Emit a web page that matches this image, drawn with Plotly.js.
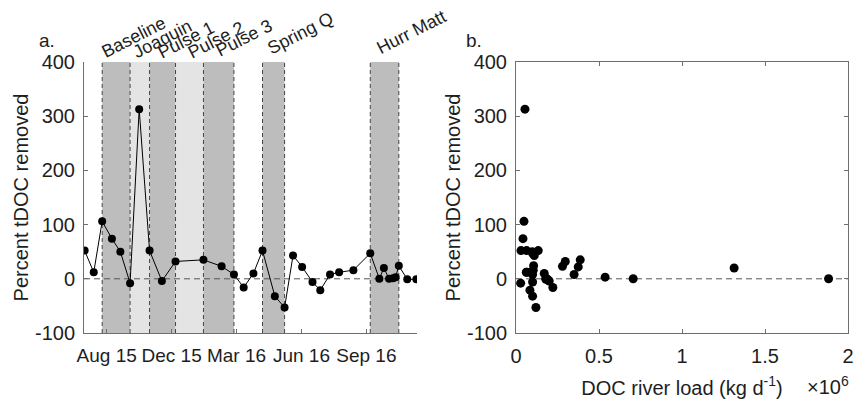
<!DOCTYPE html>
<html>
<head>
<meta charset="utf-8">
<script src="https://cdn.plot.ly/plotly-3.0.1.min.js"></script>
<style>html,body{margin:0;padding:0;background:#fff;}#chart{width:855px;height:399px;}</style>
</head>
<body>
<div id="chart"></div>
<script>
// ---- data ----
const sampleDates = ['2015-07-21','2015-08-04','2015-08-17','2015-09-01','2015-09-14','2015-09-29','2015-10-13','2015-10-29','2015-11-17','2015-12-08',
  '2016-01-20','2016-02-17','2016-03-07','2016-03-22','2016-04-06','2016-04-20','2016-05-09','2016-05-24','2016-06-06','2016-06-20',
  '2016-07-06','2016-07-18','2016-08-02','2016-08-16','2016-09-07','2016-10-03','2016-10-17','2016-10-24','2016-11-01','2016-11-07',
  '2016-11-11','2016-11-16','2016-11-29','2016-12-13'];
const percentRemoved = [52, 12, 106, 74, 50, -8, 313, 52, -4, 32, 35, 23, 8, -16, 10, 52, -32, -53, 43, 22,
  -6, -21, 8, 12, 16, 47, 0, 20, 0, 1, 3, 24, -1, -1];
const docLoadE6 = [0.030, 0.062, 0.048, 0.042, 0.098, 0.028, 0.054, 0.134, 0.200, 0.297, 0.387, 0.280, 0.350, 0.222, 0.170, 0.064, 0.100, 0.120, 0.110, 0.375,
  0.100, 0.084, 0.100, 0.066, 0.104, 0.100, 1.883, 1.314, 0.706, 0.180, 0.537, 0.106, 0.180, 0.190];

const periodNames = ['Baseline','Joaquin','Pulse 1','Pulse 2','Pulse 3','Spring Q','Hurr Matt'];
const periodStart = ['2015-08-17','2015-09-29','2015-10-29','2015-12-08','2016-01-20','2016-04-20','2016-10-03'];
const periodEnd   = ['2015-09-29','2015-10-29','2015-12-08','2016-01-20','2016-03-07','2016-05-24','2016-11-16'];
const periodShade = ['dark','light','dark','light','dark','dark','dark'];

const dateTickVals = ['2015-08-24','2015-12-02','2016-03-11','2016-06-19','2016-09-27'];
const dateTickText = ['Aug 15','Dec 15','Mar 16','Jun 16','Sep 16'];
const yTicks = [-100, 0, 100, 200, 300, 400];
const yTickText = ['-100','0','100','200','300','400'];
const loadTicks = [0, 0.5, 1, 1.5, 2];
const loadTickText = ['0','0.5','1','1.5','2'];

// ---- layout helpers ----
const W = 855, H = 399;
const px = v => v / W;
const py = v => 1 - v / H;
const FONT = 'Liberation Sans, Arial, Helvetica, sans-serif';
const TXT = '#1e1e1e';
const AX = '#6e6e6e';

const traces = [
  {x: sampleDates, y: percentRemoved, xaxis: 'x', yaxis: 'y', type: 'scatter', mode: 'lines+markers',
   line: {color: '#000', width: 1}, marker: {color: '#000', size: 8}, hoverinfo: 'x+y'},
  {x: docLoadE6, y: percentRemoved, xaxis: 'x2', yaxis: 'y2', type: 'scatter', mode: 'markers',
   marker: {color: '#000', size: 9}}
];

const shapes = [];
const bandColor = {dark: '#bdbdbd', light: '#e4e4e4'};
periodNames.forEach((n, i) => {
  shapes.push({type: 'rect', xref: 'x', yref: 'y domain', x0: periodStart[i], x1: periodEnd[i], y0: 0, y1: 1,
    fillcolor: bandColor[periodShade[i]], line: {width: 0}, layer: 'below'});
});
const edges = Array.from(new Set(periodStart.concat(periodEnd)));
edges.forEach(d => {
  shapes.push({type: 'line', xref: 'x', yref: 'y domain', x0: d, x1: d, y0: 0, y1: 1,
    line: {color: '#444', width: 1, dash: '4px,3px'}, layer: 'below'});
});
shapes.push({type: 'line', xref: 'x domain', yref: 'y', x0: 0, x1: 1, y0: 0, y1: 0,
  line: {color: '#555', width: 1, dash: '6px,4px'}, layer: 'below'});
shapes.push({type: 'line', xref: 'x2 domain', yref: 'y2', x0: 0, x1: 1, y0: 0, y1: 0,
  line: {color: '#555', width: 1, dash: '6px,4px'}, layer: 'below'});

const labelPx = [[96, 64], [127, 65], [152, 65], [182, 65], [210, 63], [262, 61], [371, 61]];
const annotations = periodNames.map((n, i) => ({
  text: n, xref: 'paper', yref: 'paper', x: px(labelPx[i][0]), y: py(labelPx[i][1]),
  xanchor: 'left', yanchor: 'bottom', textangle: -27, showarrow: false,
  font: {family: FONT, size: 18, color: TXT}
}));
annotations.push({text: 'a.', xref: 'paper', yref: 'paper', x: px(37), y: py(40), xanchor: 'left', yanchor: 'middle',
  showarrow: false, font: {family: FONT, size: 19, color: TXT}});
annotations.push({text: 'b.', xref: 'paper', yref: 'paper', x: px(464), y: py(40), xanchor: 'left', yanchor: 'middle',
  showarrow: false, font: {family: FONT, size: 19, color: TXT}});
annotations.push({text: '×10<sup>6</sup>', xref: 'paper', yref: 'paper', x: px(805), y: py(385), xanchor: 'left', yanchor: 'middle',
  showarrow: false, font: {family: FONT, size: 20, color: TXT}});

const yCommon = {range: [-100, 400], tickvals: yTicks, ticktext: yTickText, ticks: 'inside', ticklen: 4, tickcolor: AX,
  showline: true, linecolor: AX, linewidth: 1, showgrid: false, zeroline: false,
  ticklabelstandoff: 4, tickfont: {family: FONT, size: 20, color: TXT},
  title: {text: 'Percent tDOC removed', font: {family: FONT, size: 20, color: TXT}, standoff: 0},
  domain: [py(333), py(62)]};

const layout = {
  width: W, height: H, margin: {l: 0, r: 0, t: 0, b: 0},
  paper_bgcolor: '#fff', plot_bgcolor: 'rgba(0,0,0,0)', showlegend: false,
  font: {family: FONT, size: 20, color: TXT},
  xaxis: {type: 'date', domain: [px(84), px(417)], range: ['2015-07-20', '2016-12-14'],
    tickvals: dateTickVals, ticktext: dateTickText, ticks: 'inside', ticklen: 4, tickcolor: AX,
    showline: true, linecolor: AX, linewidth: 1, showgrid: false, zeroline: false,
    ticklabelstandoff: 5, tickfont: {family: FONT, size: 19, color: TXT}, anchor: 'y'},
  yaxis: Object.assign({}, yCommon, {anchor: 'x'}),
  xaxis2: {domain: [px(516), px(848)], range: [0, 2], tickvals: loadTicks, ticktext: loadTickText,
    ticks: 'inside', ticklen: 4, tickcolor: AX, showline: true, mirror: 'ticks', linecolor: AX, linewidth: 1,
    showgrid: false, zeroline: false, ticklabelstandoff: 5, tickfont: {family: FONT, size: 20, color: TXT},
    title: {text: 'DOC river load (kg d<sup>-1</sup>)', font: {family: FONT, size: 20, color: TXT}, standoff: 14},
    anchor: 'y2'},
  yaxis2: Object.assign({}, yCommon, {anchor: 'x2', mirror: 'ticks'}),
  shapes: shapes, annotations: annotations
};

Plotly.newPlot('chart', traces, layout, {displayModeBar: false, staticPlot: true});
</script>
</body>
</html>
